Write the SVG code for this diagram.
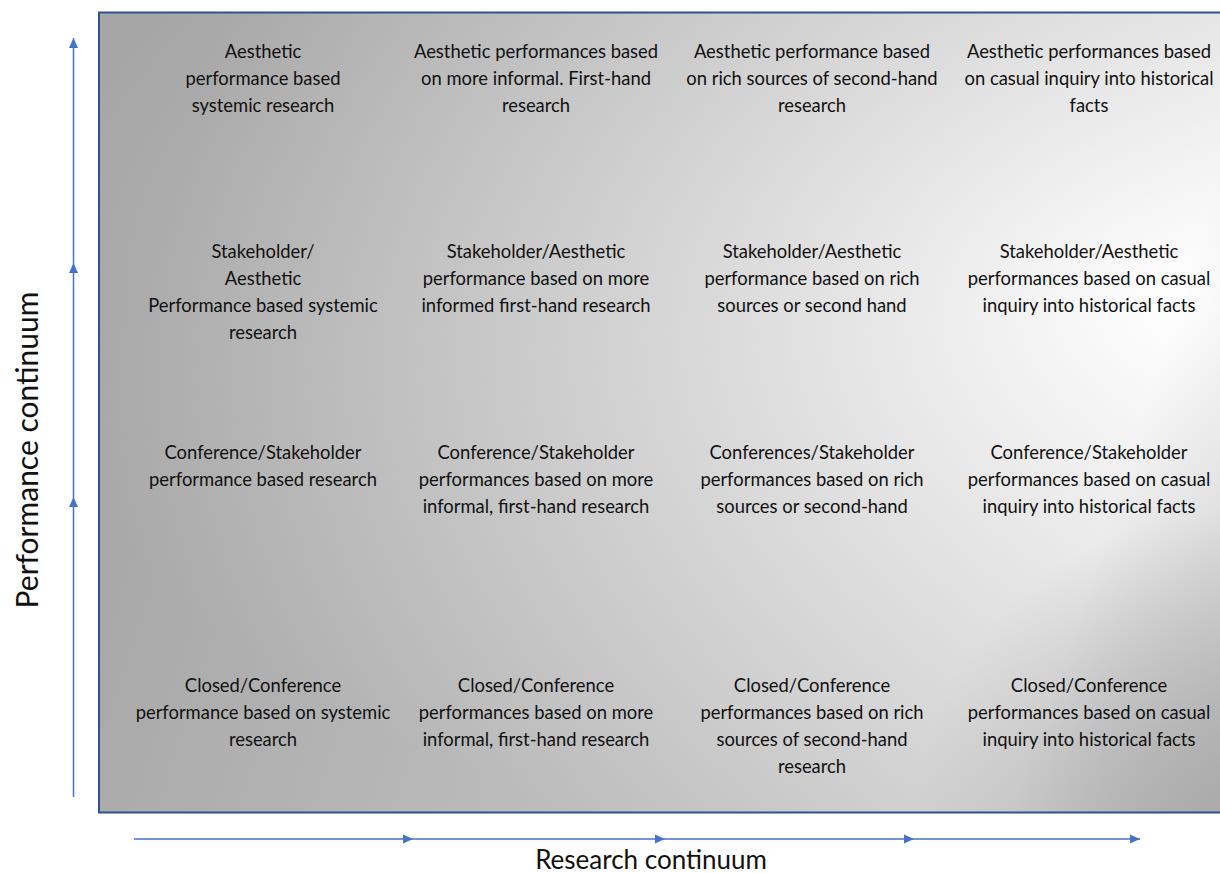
<svg xmlns="http://www.w3.org/2000/svg" width="1220" height="873" viewBox="0 0 1220 873">
<style>
.t{font-family:Lato,"Liberation Sans",sans-serif;font-size:18.4px;fill:#111;text-anchor:middle}
.ax{font-family:Lato,"Liberation Sans",sans-serif;fill:#111;text-anchor:middle}
.arr{stroke:#4472C4;stroke-width:1.5;fill:none;marker-end:url(#ah)}
</style>
<defs>
<linearGradient id="gl" gradientUnits="userSpaceOnUse" x1="230" y1="-10" x2="1446" y2="387">
<stop offset="0" stop-color="#a6a6a6"/>
<stop offset="0.78" stop-color="#ffffff"/>
<stop offset="1" stop-color="#b0b0b0"/>
</linearGradient>
<radialGradient id="gr" gradientUnits="userSpaceOnUse" cx="1170" cy="300" r="1150" gradientTransform="translate(1170 300) scale(1 0.52) translate(-1170 -300)">
<stop offset="0" stop-color="#ffffff"/>
<stop offset="1" stop-color="#a6a6a6"/>
</radialGradient>
<radialGradient id="gc" gradientUnits="userSpaceOnUse" cx="1240" cy="840" r="330">
<stop offset="0" stop-color="#a6a6a6" stop-opacity="0.9"/>
<stop offset="1" stop-color="#a6a6a6" stop-opacity="0"/>
</radialGradient>
<marker id="ah" viewBox="0 0 10 10" refX="10" refY="5" markerWidth="10" markerHeight="10" orient="auto" markerUnits="userSpaceOnUse">
<path d="M0,0.5 L10,5 L0,9.5 z" fill="#4472C4"/>
</marker>
</defs>
<g id="panel">
<rect x="99" y="12.5" width="1140" height="800" fill="url(#gl)"/>
<rect x="99" y="12.5" width="1140" height="800" fill="url(#gr)" opacity="0.55"/>
<rect x="99" y="12.5" width="1140" height="800" fill="url(#gc)"/>
<rect x="99" y="12.5" width="1140" height="800" fill="none" stroke="#2F528F" stroke-width="2"/>
</g>
<g id="connectors">
<line class="arr" x1="73.5" y1="797" x2="73.5" y2="497"/>
<line class="arr" x1="73.5" y1="497" x2="73.5" y2="263"/>
<line class="arr" x1="73.5" y1="263" x2="73.5" y2="38"/>
<line class="arr" x1="134" y1="839" x2="413" y2="839"/>
<line class="arr" x1="413" y1="839" x2="665" y2="839"/>
<line class="arr" x1="665" y1="839" x2="914" y2="839"/>
<line class="arr" x1="914" y1="839" x2="1140" y2="839"/>
</g>
<g id="axis-y"><text class="ax" font-size="30" transform="translate(38 450) rotate(-90)">Performance continuum</text></g>
<g id="axis-x"><text class="ax" font-size="26" x="651" y="869">Research continuum</text></g>
<g id="r1c1"><text class="t" x="263" y="58">Aesthetic<tspan x="263" dy="27">performance based</tspan><tspan x="263" dy="27">systemic research</tspan></text></g>
<g id="r1c2"><text class="t" x="536" y="58">Aesthetic performances based<tspan x="536" dy="27">on more informal. First-hand</tspan><tspan x="536" dy="27">research</tspan></text></g>
<g id="r1c3"><text class="t" x="812" y="58">Aesthetic performance based<tspan x="812" dy="27">on rich sources of second-hand</tspan><tspan x="812" dy="27">research</tspan></text></g>
<g id="r1c4"><text class="t" x="1089" y="58">Aesthetic performances based<tspan x="1089" dy="27">on casual inquiry into historical</tspan><tspan x="1089" dy="27">facts</tspan></text></g>
<g id="r2c1"><text class="t" x="263" y="258">Stakeholder/<tspan x="263" dy="27">Aesthetic</tspan><tspan x="263" dy="27">Performance based systemic</tspan><tspan x="263" dy="27">research</tspan></text></g>
<g id="r2c2"><text class="t" x="536" y="258">Stakeholder/Aesthetic<tspan x="536" dy="27">performance based on more</tspan><tspan x="536" dy="27">informed first-hand research</tspan></text></g>
<g id="r2c3"><text class="t" x="812" y="258">Stakeholder/Aesthetic<tspan x="812" dy="27">performance based on rich</tspan><tspan x="812" dy="27">sources or second hand</tspan></text></g>
<g id="r2c4"><text class="t" x="1089" y="258">Stakeholder/Aesthetic<tspan x="1089" dy="27">performances based on casual</tspan><tspan x="1089" dy="27">inquiry into historical facts</tspan></text></g>
<g id="r3c1"><text class="t" x="263" y="459">Conference/Stakeholder<tspan x="263" dy="27">performance based research</tspan></text></g>
<g id="r3c2"><text class="t" x="536" y="459">Conference/Stakeholder<tspan x="536" dy="27">performances based on more</tspan><tspan x="536" dy="27">informal, first-hand research</tspan></text></g>
<g id="r3c3"><text class="t" x="812" y="459">Conferences/Stakeholder<tspan x="812" dy="27">performances based on rich</tspan><tspan x="812" dy="27">sources or second-hand</tspan></text></g>
<g id="r3c4"><text class="t" x="1089" y="459">Conference/Stakeholder<tspan x="1089" dy="27">performances based on casual</tspan><tspan x="1089" dy="27">inquiry into historical facts</tspan></text></g>
<g id="r4c1"><text class="t" x="263" y="692">Closed/Conference<tspan x="263" dy="27">performance based on systemic</tspan><tspan x="263" dy="27">research</tspan></text></g>
<g id="r4c2"><text class="t" x="536" y="692">Closed/Conference<tspan x="536" dy="27">performances based on more</tspan><tspan x="536" dy="27">informal, first-hand research</tspan></text></g>
<g id="r4c3"><text class="t" x="812" y="692">Closed/Conference<tspan x="812" dy="27">performances based on rich</tspan><tspan x="812" dy="27">sources of second-hand</tspan><tspan x="812" dy="27">research</tspan></text></g>
<g id="r4c4"><text class="t" x="1089" y="692">Closed/Conference<tspan x="1089" dy="27">performances based on casual</tspan><tspan x="1089" dy="27">inquiry into historical facts</tspan></text></g>
</svg>
